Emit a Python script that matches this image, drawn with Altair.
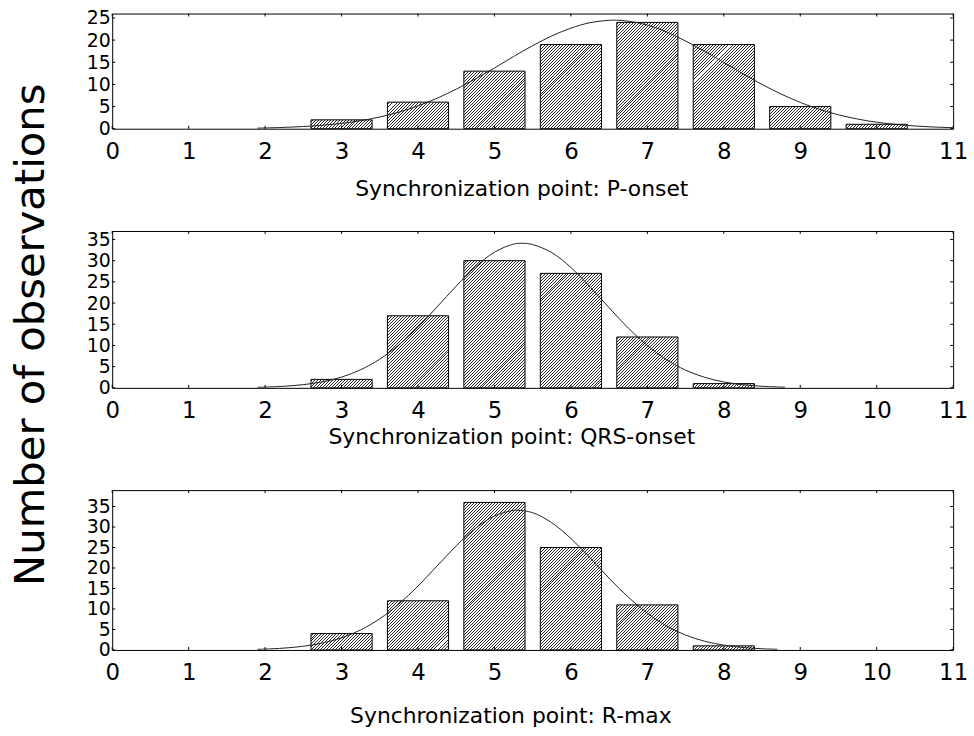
import altair as alt
import pandas as pd

FONT = "DejaVu Sans"

# ---------------- data ----------------
x_ticks = list(range(0, 12))

p_bins = [3, 4, 5, 6, 7, 8, 9, 10]
p_counts = [2, 6, 13, 19, 24, 19, 5, 1]
p_curve_x = [1.9, 2.0, 2.25, 2.5, 2.75, 3.0, 3.25, 3.5, 3.75, 4.0, 4.25, 4.5, 4.75, 5.0, 5.25,
             5.5, 5.75, 6.0, 6.25, 6.5, 6.6, 6.75, 7.0, 7.25, 7.5, 7.75, 8.0, 8.25, 8.5, 8.75, 9.0,
             9.25, 9.5, 9.75, 10.0, 10.25, 10.5, 10.75, 11.0]
p_curve_y = [0.14, 0.17, 0.30, 0.49, 0.78, 1.20, 1.81, 2.64, 3.74, 5.16, 6.88, 8.93, 11.24, 13.7,
             16.3, 18.75, 20.95, 22.7, 23.94, 24.47, 24.5, 24.28, 23.4, 21.87, 19.8, 17.48, 14.95,
             12.42, 10.0, 7.83, 5.94, 4.38, 3.14, 2.18, 1.47, 0.96, 0.61, 0.38, 0.23]

q_bins = [3, 4, 5, 6, 7, 8]
q_counts = [2, 17, 30, 27, 12, 1]
q_curve_x = [1.9, 2.0, 2.25, 2.5, 2.75, 3.0, 3.25, 3.5, 3.75, 4.0, 4.25, 4.5, 4.75, 5.0, 5.25,
             5.375, 5.5, 5.75, 6.0, 6.25, 6.5, 6.75, 7.0, 7.25, 7.5, 7.75, 8.0, 8.25, 8.5, 8.8]
q_curve_y = [0.13, 0.18, 0.38, 0.76, 1.43, 2.54, 4.27, 6.77, 10.14, 14.3, 19.1, 24.0, 28.5, 32.0,
             33.9, 34.1, 33.8, 31.9, 28.4, 23.8, 18.9, 14.1, 10.0, 6.65, 4.18, 2.49, 1.39, 0.74,
             0.37, 0.15]

r_bins = [3, 4, 5, 6, 7, 8]
r_counts = [4, 12, 36, 25, 11, 1]
r_curve_x = [1.9, 2.0, 2.25, 2.5, 2.75, 3.0, 3.25, 3.5, 3.75, 4.0, 4.25, 4.5, 4.75, 5.0, 5.25,
             5.3, 5.5, 5.75, 6.0, 6.25, 6.5, 6.75, 7.0, 7.25, 7.5, 7.75, 8.0, 8.25, 8.5, 8.7]
r_curve_y = [0.16, 0.22, 0.46, 0.91, 1.69, 2.95, 4.89, 7.62, 11.23, 15.6, 20.5, 25.4, 29.65, 32.7,
             34.06, 34.1, 33.5, 31.05, 27.2, 22.5, 17.5, 12.9, 8.97, 5.88, 3.64, 2.13, 1.17, 0.61,
             0.30, 0.17]

titles = ["Synchronization point: P-onset",
          "Synchronization point: QRS-onset",
          "Synchronization point: R-max"]
y_title = "Number of observations"

# ---------------- layout ----------------
W = 847
BAR_HALF = 0.4


def hatch(w, h, period=3.0, thick=1.0, color="#262626"):
    """Diagonal '/' hatch built from a linear gradient in the bar's own box."""
    h = max(h, 1.0)
    L = w + h
    s = w * L / (w * w + h * h)
    stops = [alt.GradientStop(offset=0, color="white")]
    pos = period / 2.0
    while pos + thick < L:
        a = round(pos / L, 5)
        b = round((pos + thick) / L, 5)
        stops += [alt.GradientStop(offset=a, color="white"),
                  alt.GradientStop(offset=a, color=color),
                  alt.GradientStop(offset=b, color=color),
                  alt.GradientStop(offset=b, color="white")]
        pos += period
    stops.append(alt.GradientStop(offset=1, color="white"))
    return alt.LinearGradient(gradient="linear", stops=stops,
                              x1=0, y1=0, x2=round(s, 5), y2=round(s * h / w, 5))


def panel(bins, counts, cx, cy, ymax, yticks, h, title, tx, ty, with_ytitle):
    xs = alt.Scale(domain=[0, 11], nice=False, zero=False)
    ys = alt.Scale(domain=[0, ymax], nice=False, zero=True)
    ppu = h / ymax
    bar_w = 2 * BAR_HALF * W / 11

    xaxis = alt.Axis(values=x_ticks, ticks=False, domain=False, grid=False, labelFlush=False,
                     labelFont=FONT, labelFontSize=23, labelColor="black", labelPadding=12,
                     title=title, titleFont=FONT, titleFontSize=22, titleFontWeight="normal",
                     titleColor="black", titleX=tx, titleY=ty, titleAlign="center",
                     titleBaseline="alphabetic", titleAnchor="start")
    yargs = dict(values=yticks, ticks=False, domain=False, grid=False, labelFlush=False,
                 labelFont=FONT, labelFontSize=19, labelColor="black", labelPadding=2)
    if with_ytitle:
        yaxis = alt.Axis(title=y_title, titleFont=FONT, titleFontSize=42,
                         titleFontWeight="normal", titleColor="black", titleAngle=270,
                         titleX=-69, titleY=104, titleAlign="center",
                         titleBaseline="alphabetic", **yargs)
    else:
        yaxis = alt.Axis(title=None, **yargs)

    curve_df = pd.DataFrame({"cx": cx, "cy": cy})
    bars_df = pd.DataFrame({"b": bins, "n": counts})
    xt_df = pd.DataFrame({"t": x_ticks})
    yt_df = pd.DataFrame({"t": yticks})

    layers = []
    for b, n in zip(bins, counts):
        layers.append(
            alt.Chart(bars_df)
            .transform_filter(alt.datum.b == b)
            .transform_calculate(lo=f"datum.b - {BAR_HALF}", hi=f"datum.b + {BAR_HALF}")
            .mark_bar(fill=hatch(bar_w, n * ppu), stroke="black", strokeWidth=1)
            .encode(x=alt.X("lo:Q", scale=xs, axis=xaxis), x2="hi:Q",
                    y=alt.Y("n:Q", scale=ys, axis=yaxis), y2=alt.datum(0))
        )
    curve = alt.Chart(curve_df).mark_line(color="#222", strokeWidth=1,
                                          interpolate="catmull-rom").encode(
        x=alt.X("cx:Q", scale=xs, axis=xaxis),
        y=alt.Y("cy:Q", scale=ys, axis=yaxis),
        order="cx:Q")
    top = alt.Chart(xt_df).mark_rule(color="black").encode(
        x=alt.X("t:Q", scale=xs, axis=xaxis), y=alt.value(0), y2=alt.value(3))
    bottom = alt.Chart(xt_df).mark_rule(color="black").encode(
        x=alt.X("t:Q", scale=xs, axis=xaxis), y=alt.value(h), y2=alt.value(h - 3))
    right = alt.Chart(yt_df).mark_rule(color="black").encode(
        y=alt.Y("t:Q", scale=ys, axis=yaxis), x=alt.value(W - 3), x2=alt.value(W))
    left = alt.Chart(yt_df).mark_rule(color="black").encode(
        y=alt.Y("t:Q", scale=ys, axis=yaxis), x=alt.value(0), x2=alt.value(3))

    return alt.layer(*layers, curve, top, bottom, right, left).properties(
        width=W, height=h)


p1 = panel(p_bins, p_counts, p_curve_x, p_curve_y, 26, [0, 5, 10, 15, 20, 25], 116,
           titles[0], 412, 67, False)
p2 = panel(q_bins, q_counts, q_curve_x, q_curve_y, 37, [0, 5, 10, 15, 20, 25, 30, 35], 158,
           titles[1], 402, 56, True)
p3 = panel(r_bins, r_counts, r_curve_x, r_curve_y, 39, [0, 5, 10, 15, 20, 25, 30, 35], 161,
           titles[2], 401, 73, False)

chart = alt.vconcat(p1, p2, p3, spacing=103, bounds="flush").properties(
    padding={"left": 9, "top": 5, "right": 5, "bottom": 5},
    background="white",
).configure_view(stroke="black", strokeWidth=1)

chart.save("out.html", embed_options={"renderer": "svg", "actions": False})
